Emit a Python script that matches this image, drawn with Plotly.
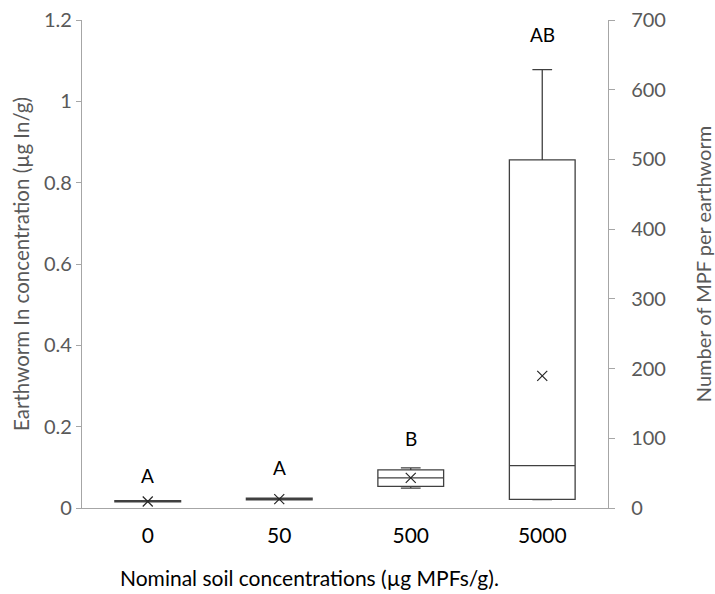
import plotly.graph_objects as go

categories = ["0", "50", "500", "5000"]
q1 = [0.015, 0.020, 0.0534, 0.0214]
median = [0.016, 0.022, 0.074, 0.104]
q3 = [0.018, 0.024, 0.0936, 0.856]
lowerfence = [0.015, 0.020, 0.049, 0.0205]
upperfence = [0.018, 0.024, 0.0985, 1.078]
means = [0.016, 0.022, 0.074, 0.325]
letters = ["A", "A", "B", "AB"]
letter_y = [0.081, 0.10, 0.172, 1.165]

font_family = "Lato, 'Open Sans', sans-serif"
gray = "#595959"
axis_gray = "#a6a6a6"

fig = go.Figure()
fig.add_trace(go.Box(
    x=categories, q1=q1, median=median, q3=q3,
    lowerfence=lowerfence, upperfence=upperfence,
    width=0.5, whiskerwidth=0.3,
    fillcolor="white", line=dict(color="#404040", width=1.3),
    boxpoints=False, showlegend=False, hoverinfo="skip",
))
fig.add_trace(go.Scatter(
    x=categories, y=means, mode="markers",
    marker=dict(symbol="x-thin", size=10, line=dict(color="#262626", width=1.2)),
    showlegend=False, hoverinfo="skip",
))
fig.add_trace(go.Scatter(
    x=categories, y=means, yaxis="y2",
    mode="markers", marker=dict(opacity=0), showlegend=False, hoverinfo="skip",
))
for i, (t, y) in enumerate(zip(letters, letter_y)):
    fig.add_annotation(x=i, y=y, xref="x", yref="y", text=t, showarrow=False,
                       font=dict(family=font_family, size=19, color="black"))

fig.add_annotation(
    x=0.432, y=-0.143, xref="paper", yref="paper", showarrow=False,
    xanchor="center", yanchor="middle",
    text="Nominal soil concentrations (µg MPFs/g).",
    font=dict(family=font_family, size=21, color="black"),
)

fig.update_layout(
    width=715, height=594,
    margin=dict(l=82, r=107, t=20, b=86),
    plot_bgcolor="white", paper_bgcolor="white",
    font=dict(family=font_family),
    xaxis=dict(
        type="category", categoryorder="array", categoryarray=categories,
        range=[-0.5, 3.5], automargin=False,
        showline=True, linecolor=axis_gray, linewidth=1.3,
        showgrid=False, ticks="", zeroline=False,
        tickfont=dict(size=21, color="black"), ticklabelstandoff=9,
    ),
    yaxis=dict(
        range=[0, 1.2], dtick=0.2, showgrid=False, zeroline=False,
        automargin=False,
        showline=True, linecolor=axis_gray, linewidth=1.3,
        ticks="outside", ticklen=5, tickcolor=axis_gray,
        tickfont=dict(size=20, color=gray),
        title=dict(text="Earthworm In concentration (µg In/g)",
                   font=dict(size=20.5, color=gray), standoff=8),
    ),
    yaxis2=dict(
        overlaying="y", side="right", range=[0, 700], dtick=100,
        showgrid=False, zeroline=False, automargin=False,
        showline=True, linecolor=axis_gray, linewidth=1.3,
        ticks="outside", ticklen=6, tickcolor=axis_gray,
        tickfont=dict(size=20, color=gray), ticklabelstandoff=12,
        title=dict(text="Number of MPF per earthworm",
                   font=dict(size=20, color=gray), standoff=34),
    ),
)

fig.write_html("out.html", config={"displayModeBar": False},
               post_script="document.body.style.margin='0';document.body.style.padding='0';")
